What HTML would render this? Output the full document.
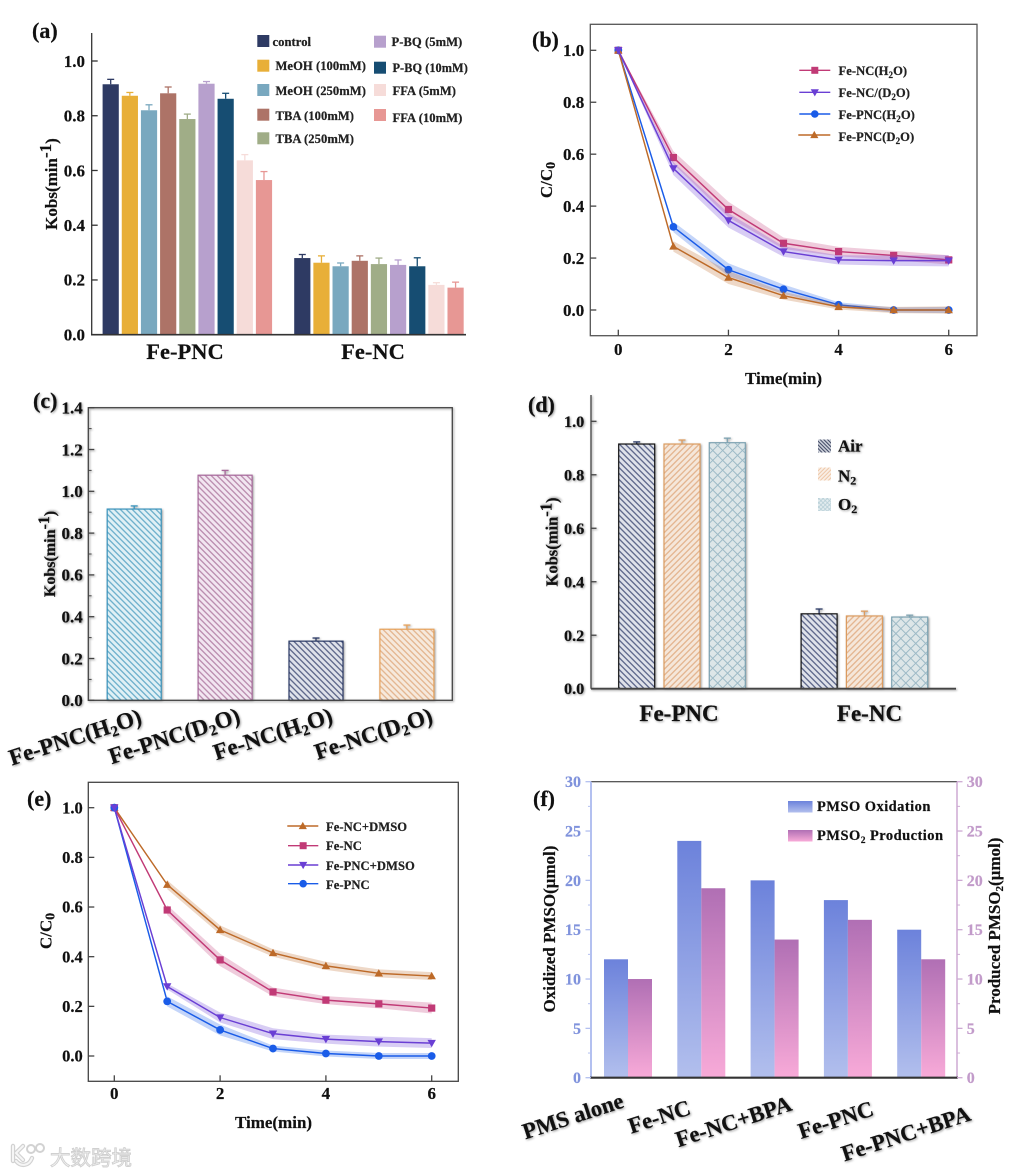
<!DOCTYPE html>
<html lang="en">
<head>
<meta charset="utf-8">
<title>Kobs and C/C0 chart panels</title>
<style>
html,body{margin:0;padding:0;background:#fff;width:1012px;height:1175px;overflow:hidden}
svg{display:block;filter:blur(.35px)}
text{font-family:"Liberation Serif","Noto Sans CJK SC",serif;font-weight:700;fill:#111;stroke:#111;stroke-width:.2px}
.sh{filter:drop-shadow(1.5px 1.5px 1px rgba(0,0,0,.38))}
.lg{font-size:12.6px;letter-spacing:.05px;fill:#222}
.pl{font-size:22px}
.ax{font-size:17px}
</style>
</head>
<body>
<svg id="fig" xmlns="http://www.w3.org/2000/svg" width="1012" height="1175" viewBox="0 0 1012 1175">
<defs>
<pattern id="hc1" width="4.2" height="4.2" patternUnits="userSpaceOnUse" patternTransform="rotate(45)"><rect width="4.2" height="4.2" fill="#e0f0f5"/><line x1="0" y1="2.1" x2="4.2" y2="2.1" stroke="#6aaecb" stroke-width="1.3"/></pattern>
<pattern id="hc2" width="4.2" height="4.2" patternUnits="userSpaceOnUse" patternTransform="rotate(45)"><rect width="4.2" height="4.2" fill="#f2e6f1"/><line x1="0" y1="2.1" x2="4.2" y2="2.1" stroke="#b98aad" stroke-width="1.3"/></pattern>
<pattern id="hc3" width="4.2" height="4.2" patternUnits="userSpaceOnUse" patternTransform="rotate(45)"><rect width="4.2" height="4.2" fill="#dfe2ea"/><line x1="0" y1="2.1" x2="4.2" y2="2.1" stroke="#5a6488" stroke-width="1.3"/></pattern>
<pattern id="hc4" width="4.2" height="4.2" patternUnits="userSpaceOnUse" patternTransform="rotate(45)"><rect width="4.2" height="4.2" fill="#f6e9dc"/><line x1="0" y1="2.1" x2="4.2" y2="2.1" stroke="#e3b48e" stroke-width="1.3"/></pattern>
<pattern id="hdAir" width="4.2" height="4.2" patternUnits="userSpaceOnUse" patternTransform="rotate(45)"><rect width="4.2" height="4.2" fill="#dfe2ea"/><line x1="0" y1="2.1" x2="4.2" y2="2.1" stroke="#5a6488" stroke-width="1.3"/></pattern>
<pattern id="hdN2" width="4.2" height="4.2" patternUnits="userSpaceOnUse" patternTransform="rotate(-45)"><rect width="4.2" height="4.2" fill="#f5e7da"/><line x1="0" y1="2.1" x2="4.2" y2="2.1" stroke="#e3b48e" stroke-width="1.3"/></pattern>
<pattern id="hdO2" width="7" height="7" patternUnits="userSpaceOnUse" patternTransform="rotate(45)"><rect width="7" height="7" fill="#dde6e8"/><path d="M0 3.5H7M3.5 0V7" stroke="#9dbac6" stroke-width="1"/></pattern>
<pattern id="lgAir" width="2.6" height="2.6" patternUnits="userSpaceOnUse" patternTransform="rotate(45)"><rect width="2.6" height="2.6" fill="#cfd3dc"/><line x1="0" y1="1.3" x2="2.6" y2="1.3" stroke="#3c4460" stroke-width="1"/></pattern>
<pattern id="lgN2" width="2.8" height="2.8" patternUnits="userSpaceOnUse" patternTransform="rotate(-45)"><rect width="2.8" height="2.8" fill="#f9efe6"/><line x1="0" y1="1.4" x2="2.8" y2="1.4" stroke="#eec6a6" stroke-width="1"/></pattern>
<pattern id="lgO2" width="3" height="3" patternUnits="userSpaceOnUse" patternTransform="rotate(45)"><rect width="3" height="3" fill="#e3ecef"/><path d="M0 1.5H3M1.5 0V3" stroke="#b5ced6" stroke-width=".8"/></pattern>
<linearGradient id="gOx" x1="0" y1="0" x2="0" y2="1"><stop offset="0" stop-color="#6c82db"/><stop offset="1" stop-color="#b2bfed"/></linearGradient>
<linearGradient id="gPr" x1="0" y1="0" x2="0" y2="1"><stop offset="0" stop-color="#b06fb4"/><stop offset="1" stop-color="#f8aad8"/></linearGradient>
</defs>

<!-- Panel labels -->
<text class="pl" x="32" y="38">(a)</text>
<text class="pl" x="532" y="47">(b)</text>
<text class="pl sh" x="33" y="408">(c)</text>
<text class="pl sh" x="528" y="412">(d)</text>
<text class="pl" x="27" y="806">(e)</text>
<text class="pl" x="533" y="806">(f)</text>

<!-- Axis titles -->
<text class="ax" text-anchor="middle" transform="translate(57 184) rotate(-90)">Kobs(min<tspan dy="-6">-1</tspan><tspan dy="6">)</tspan></text>
<text class="ax" text-anchor="middle" transform="translate(552 180) rotate(-90)">C/C<tspan dy="3" font-size="14">0</tspan></text>
<text class="ax" text-anchor="middle" x="783.5" y="384">Time(min)</text>
<text class="ax sh" text-anchor="middle" style="font-size:16px" transform="translate(55 554) rotate(-90)">Kobs(min<tspan dy="-6">-1</tspan><tspan dy="6">)</tspan></text>
<text class="ax sh" text-anchor="middle" style="font-size:16.5px" transform="translate(557.5 542) rotate(-90)">Kobs(min<tspan dy="-6">-1</tspan><tspan dy="6">)</tspan></text>
<text class="ax" text-anchor="middle" transform="translate(51.5 931) rotate(-90)">C/C<tspan dy="3" font-size="14">0</tspan></text>
<text class="ax" text-anchor="middle" x="273.5" y="1128">Time(min)</text>
<text class="ax" text-anchor="middle" transform="translate(555 929) rotate(-90)">Oxidized PMSO(μmol)</text>
<text class="ax" text-anchor="middle" transform="translate(1000 926) rotate(-90)">Produced PMSO<tspan dy="3" font-size="11">2</tspan><tspan dy="-3">(μmol)</tspan></text>

<!-- Category labels -->
<g>
<text style="font-size:22.5px" text-anchor="middle" x="185" y="359">Fe-PNC</text>
<text style="font-size:22.5px" text-anchor="middle" x="373" y="359">Fe-NC</text>
</g>
<g class="sh">
<text style="font-size:23px" text-anchor="middle" x="679" y="721">Fe-PNC</text>
<text style="font-size:23px" text-anchor="middle" x="869.5" y="721">Fe-NC</text>
</g>
<g class="sh">
<text style="font-size:23px" text-anchor="end" transform="translate(143 723) rotate(-18)">Fe-PNC(H<tspan dy="4" font-size="15">2</tspan><tspan dy="-4">O)</tspan></text>
<text style="font-size:23px" text-anchor="end" transform="translate(241.5 722) rotate(-18)">Fe-PNC(D<tspan dy="4" font-size="15">2</tspan><tspan dy="-4">O)</tspan></text>
<text style="font-size:23px" text-anchor="end" transform="translate(334 722) rotate(-18)">Fe-NC(H<tspan dy="4" font-size="15">2</tspan><tspan dy="-4">O)</tspan></text>
<text style="font-size:23px" text-anchor="end" transform="translate(434 722) rotate(-18)">Fe-NC(D<tspan dy="4" font-size="15">2</tspan><tspan dy="-4">O)</tspan></text>
</g>
<g class="sh">
<text style="font-size:22.6px" text-anchor="end" transform="translate(625 1107) rotate(-18)">PMS alone</text>
<text style="font-size:22.6px" text-anchor="end" transform="translate(692 1114) rotate(-18)">Fe-NC</text>
<text style="font-size:22.6px" text-anchor="end" transform="translate(793 1110) rotate(-18)">Fe-NC+BPA</text>
<text style="font-size:22.6px" text-anchor="end" transform="translate(875 1115) rotate(-18)">Fe-PNC</text>
<text style="font-size:22.6px" text-anchor="end" transform="translate(972 1120) rotate(-18)">Fe-PNC+BPA</text>
</g>

<!-- Legend text, panel a -->
<g>
<text class="lg" x="272.5" y="46">control</text>
<text class="lg" x="275.5" y="70">MeOH (100mM)</text>
<text class="lg" x="275.5" y="95">MeOH (250mM)</text>
<text class="lg" x="275.5" y="120">TBA (100mM)</text>
<text class="lg" x="275.5" y="143">TBA (250mM)</text>
<text class="lg" x="391.5" y="46">P-BQ (5mM)</text>
<text class="lg" x="392.5" y="72" style="font-size:12.3px">P-BQ (10mM)</text>
<text class="lg" x="392.5" y="95">FFA (5mM)</text>
<text class="lg" x="392.5" y="122">FFA (10mM)</text>
</g>

<!-- Legend text, panel b -->
<g>
<text class="lg" x="838.5" y="75">Fe-NC(H<tspan dy="3" font-size="9">2</tspan><tspan dy="-3">O)</tspan></text>
<text class="lg" x="838.5" y="97">Fe-NC/(D<tspan dy="3" font-size="9">2</tspan><tspan dy="-3">O)</tspan></text>
<text class="lg" x="838.5" y="119">Fe-PNC(H<tspan dy="3" font-size="9">2</tspan><tspan dy="-3">O)</tspan></text>
<text class="lg" x="838.5" y="141">Fe-PNC(D<tspan dy="3" font-size="9">2</tspan><tspan dy="-3">O)</tspan></text>
</g>

<!-- Legend, panel d -->
<g>
<rect x="818" y="439.5" width="13" height="13" fill="url(#lgAir)"/>
<rect x="818" y="467.5" width="13" height="13" fill="url(#lgN2)"/>
<rect x="818" y="498" width="13" height="13" fill="url(#lgO2)"/>
<text class="sh" style="font-size:17px" x="838" y="451.5">Air</text>
<text class="sh" style="font-size:17px" x="838" y="481.5">N<tspan dy="3" font-size="12">2</tspan></text>
<text class="sh" style="font-size:17px" x="838" y="510">O<tspan dy="3" font-size="12">2</tspan></text>
</g>

<!-- Legend text, panel e -->
<g>
<text class="lg" x="326" y="831">Fe-NC+DMSO</text>
<text class="lg" x="326" y="850">Fe-NC</text>
<text class="lg" x="326" y="870">Fe-PNC+DMSO</text>
<text class="lg" x="326" y="889">Fe-PNC</text>
</g>

<!-- Legend, panel f -->
<g>
<rect x="788" y="801" width="24.5" height="11.5" fill="url(#gOx)"/>
<rect x="788" y="830" width="24.5" height="11.5" fill="url(#gPr)"/>
<text style="font-size:14.5px;letter-spacing:.45px" x="817" y="811">PMSO Oxidation</text>
<text style="font-size:14.5px;letter-spacing:.45px" x="817" y="840">PMSO<tspan dy="3" font-size="9.5">2</tspan><tspan dy="-3"> Production</tspan></text>
</g>

<!-- Watermark -->
<g>
<path d="M13 1146v15M23 1146l-7 7 7 7M16 1161c5 6 13 5 16-3" fill="none" stroke="#d2d2d2" stroke-width="4.4" stroke-linecap="round"/>
<path d="M13 1146v15M23 1146l-7 7 7 7M16 1161c5 6 13 5 16-3" fill="none" stroke="#f6f6f6" stroke-width="2" stroke-linecap="round"/>
<circle cx="31" cy="1149" r="4" fill="#fff" stroke="#d2d2d2" stroke-width="2"/>
<circle cx="40" cy="1148" r="4" fill="#fff" stroke="#d2d2d2" stroke-width="2"/>
<text x="50" y="1165" style="font-family:'Liberation Sans','Noto Sans CJK SC',sans-serif;font-size:20.5px;font-weight:400;fill:#f2f2f2;stroke:#d0d0d0;stroke-width:.9px">大数跨境</text>
</g>
</svg>

<script>
/* ---------- Panel a data ---------- */
const aYTicks = [0, 0.2, 0.4, 0.6, 0.8, 1.0];
const aPncValues = [0.915, 0.873, 0.82, 0.882, 0.788, 0.917, 0.862, 0.637, 0.565];
const aPncTops = [0.933, 0.885, 0.84, 0.905, 0.806, 0.925, 0.882, 0.658, 0.596];
const aNcValues = [0.28, 0.263, 0.25, 0.27, 0.258, 0.255, 0.25, 0.182, 0.172];
const aNcTops = [0.293, 0.288, 0.262, 0.288, 0.28, 0.273, 0.281, 0.19, 0.192];
const aColors = ['#2e3a63', '#e8af38', '#79a8bf', '#ad7367', '#a0ad87', '#b7a0cd', '#164d72', '#f6dcd9', '#e79794'];

/* ---------- Panel b data ---------- */
const lineXTicks = [0, 2, 4, 6];
const lineYTicks = [0, 0.2, 0.4, 0.6, 0.8, 1.0];
const times = [0, 1, 2, 3, 4, 5, 6];
const bNcH2o = [1, 0.587, 0.387, 0.257, 0.225, 0.21, 0.193];
const bNcH2oErr = [0, 0.025, 0.03, 0.022, 0.018, 0.018, 0.018];
const bNcD2o = [1, 0.545, 0.345, 0.225, 0.193, 0.19, 0.19];
const bNcD2oErr = [0, 0.025, 0.028, 0.02, 0.018, 0.02, 0.022];
const bPncH2o = [1, 0.32, 0.155, 0.08, 0.02, 0, 0];
const bPncH2oErr = [null, 0.02, 0.025, 0.018, 0.01, 0.01, 0.012];
const bPncD2o = [1, 0.245, 0.125, 0.055, 0.012, 0, 0];
const bPncD2oErr = [null, 0.02, 0.025, 0.015, 0.01, 0.012, 0.014];

/* ---------- Panel c data ---------- */
const cYTicks = [0, 0.2, 0.4, 0.6, 0.8, 1.0, 1.2, 1.4];
const cYMinorTicks = [0.1, 0.3, 0.5, 0.7, 0.9, 1.1, 1.3];
const cValues = [0.915, 1.077, 0.283, 0.34];
const cTops = [0.93, 1.1, 0.298, 0.36];

/* ---------- Panel d data ---------- */
const dYTicks = [0, 0.2, 0.4, 0.6, 0.8, 1.0];
const dPncValues = [0.915, 0.915, 0.92];
const dPncTops = [0.923, 0.93, 0.937];
const dNcValues = [0.28, 0.272, 0.268];
const dNcTops = [0.298, 0.29, 0.275];

/* ---------- Panel e data ---------- */
const eNcDmso = [1, 0.69, 0.508, 0.415, 0.363, 0.333, 0.322];
const eNcDmsoErr = [null, 0.018, 0.018, 0.015, 0.016, 0.016, 0.016];
const eNc = [1, 0.588, 0.387, 0.258, 0.225, 0.21, 0.193];
const eNcErr = [null, 0.02, 0.025, 0.018, 0.016, 0.018, 0.022];
const ePncDmso = [1, 0.28, 0.155, 0.09, 0.068, 0.058, 0.052];
const ePncDmsoErr = [null, 0.012, 0.02, 0.022, 0.018, 0.02, 0.02];
const ePnc = [1, 0.22, 0.105, 0.03, 0.01, 0, 0];
const ePncErr = [null, 0.02, 0.022, 0.012, 0.012, 0.012, 0.012];

/* ---------- Panel f data ---------- */
const fTicks = [0, 5, 10, 15, 20, 25, 30];
const fMinorTicks = [2.5, 7.5, 12.5, 17.5, 22.5, 27.5];
const fOxidized = [12, 24, 20, 18, 15];
const fProduced = [10, 19.2, 14, 16, 12];

/* ---------- Axis functions ---------- */
const aY = v => 334.7 - v * 273.7;
const aX = (g, i) => 110.7 + g * 191.6 + i * 19.16;
const bX = t => 618.3 + t * 55.07;
const bY = v => 310 - v * 259.7;
const cY = v => 700.3 - v * 209;
const cX = i => 134.2 + i * 90.9;
const dY = v => 688.7 - v * 267.4;
const dX = (g, i) => 636.7 + g * 182.4 + i * 45.3;
const eX = t => 114.3 + t * 52.9;
const eY = v => 1056 - v * 248.3;
const fY = v => 1077.7 - v * 9.867;
const fX = i => 628 + i * 73.3;

/* ---------- Drawing helpers ---------- */
const svg = document.getElementById('fig');
const NS = 'http://www.w3.org/2000/svg';
function add(parent, tag, attrs) {
  const n = document.createElementNS(NS, tag);
  for (const k in attrs) n.setAttribute(k, attrs[k]);
  parent.appendChild(n);
  return n;
}
function group(name, cls) {
  const g = add(svg, 'g', cls ? { class: cls } : {});
  
  
  return g;
}
function hLine(parent, name, x1, x2, y, color, w) {
  const l = add(parent, 'line', { x1: x1, x2: x2, y1: y, y2: y, stroke: color, 'stroke-width': w });
  
  
  return l;
}
function vLine(parent, name, x, y1, y2, color, w) {
  const l = add(parent, 'line', { x1: x, x2: x, y1: y1, y2: y2, stroke: color, 'stroke-width': w });
  
  
  return l;
}
function label(parent, name, x, y, str, size, anchor, color) {
  const t = add(parent, 'text', { x: x, y: y, 'text-anchor': anchor });
  
  
  t.style.fontSize = size + 'px';
  if (color) { t.style.fill = color; t.style.stroke = color; }
  t.textContent = str;
  return t;
}
function yAxis(parent, prefix, ticks, minor, scale, x, dir, len, color, textX, size, anchor, fmt, textColor) {
  ticks.forEach(v => {
    hLine(parent, prefix + '-tick', x, x + dir * len, scale(v), color, 1.3);
    label(parent, prefix + '-tick-label', textX, scale(v) + size * 0.34, fmt(v), size, anchor, textColor);
  });
  minor.forEach(v => {
    hLine(parent, prefix + '-minor-tick', x, x + dir * len * 0.55, scale(v), color, 1);
  });
}
function barWithError(parent, name, x, w, y0, yv, yt, fill, stroke, sw, errColor) {
  const err = vLine(parent, name + '-error', x + w / 2, yv, yt, errColor, 1.3);
  const cap = hLine(parent, name + '-error-cap', x + w / 2 - 3.5, x + w / 2 + 3.5, yt, errColor, 1.3);
  const r = add(parent, 'rect', { x: x, y: yv, width: w, height: y0 - yv, fill: fill });
  if (stroke) { r.setAttribute('stroke', stroke); r.setAttribute('stroke-width', sw); }
  
  
  return r;
}
function marker(parent, name, shape, color, x, y, r) {
  let m;
  if (shape === 'square') m = add(parent, 'rect', { x: x - r, y: y - r, width: 2 * r, height: 2 * r, fill: color });
  else if (shape === 'circle') m = add(parent, 'circle', { cx: x, cy: y, r: r + 0.3, fill: color });
  else if (shape === 'up') m = add(parent, 'polygon', { points: [x - r - 0.6, y + r - 0.4, x + r + 0.6, y + r - 0.4, x, y - r - 0.6].join(' '), fill: color });
  else m = add(parent, 'polygon', { points: [x - r - 0.6, y - r + 0.4, x + r + 0.6, y - r + 0.4, x, y + r + 0.6].join(' '), fill: color });
  
  
  return m;
}
function series(parent, name, shape, color, values, errs, xs, sx, sy) {
  const g = add(parent, 'g', {});
  
  
  const idx = xs.map((_, i) => i).filter(i => errs[i] !== null);
  const upper = idx.map(i => sx(xs[i]) + ',' + sy(values[i] + errs[i]));
  const lower = idx.slice().reverse().map(i => sx(xs[i]) + ',' + sy(values[i] - errs[i]));
  const band = add(g, 'polygon', { points: upper.concat(lower).join(' '), fill: color, 'fill-opacity': 0.26 });
  
  
  const line = add(g, 'polyline', { points: xs.map((t, i) => sx(t) + ',' + sy(values[i])).join(' '), fill: 'none', stroke: color, 'stroke-width': 1.45 });
  
  
  xs.forEach((t, i) => marker(g, name + '-point', shape, color, sx(t), sy(values[i]), 3.6));
}
function legendKey(parent, name, shape, color, x1, x2, y) {
  hLine(parent, name + '-line', x1, x2, y, color, 1.4);
  marker(parent, name + '-marker', shape, color, (x1 + x2) / 2, y, 3.5);
}

const PINK = '#c13a76', PURPLE = '#6a3fd4', BLUE = '#1a5ce8', BROWN = '#bd6a28';
const fmt1 = v => v.toFixed(1);
const fmt0 = v => String(v);

/* ---------- Panel a ---------- */
(function () {
  const g = group('panel-a');
  aPncValues.forEach((v, i) => barWithError(g, 'a-bar-fe-pnc', aX(0, i) - 8.1, 16.2, aY(0), aY(v), aY(aPncTops[i]), aColors[i], null, 0, aColors[i]));
  aNcValues.forEach((v, i) => barWithError(g, 'a-bar-fe-nc', aX(1, i) - 8.1, 16.2, aY(0), aY(v), aY(aNcTops[i]), aColors[i], null, 0, aColors[i]));
  vLine(g, 'a-y-axis', 91.7, 33, aY(0), '#333', 1.3);
  hLine(g, 'a-x-axis', 91, 466, aY(0), '#333', 1.6);
  yAxis(g, 'a-y', aYTicks, [], aY, 91.7, 1, 6, '#333', 85, 17, 'end', fmt1);
  const lg = group('a-legend-swatches');
  const rows = [41, 65.7, 90, 114.7, 138.3];
  const rows2 = [41.7, 67.7, 90, 115];
  rows.forEach((y, i) => {
    const r = add(lg, 'rect', { x: 257.3, y: y - 6, width: 12, height: 12, fill: aColors[i] });
    
    
  });
  rows2.forEach((y, i) => {
    const r = add(lg, 'rect', { x: 374, y: y - 6, width: 12, height: 12, fill: aColors[i + 5] });
    
    
  });
})();

/* ---------- Panel b ---------- */
(function () {
  const g = group('panel-b');
  const frame = add(g, 'rect', { x: 590.3, y: 24.3, width: 386.7, height: 311.4, fill: 'none', stroke: '#555', 'stroke-width': 1.3 });
  
  
  yAxis(g, 'b-y', lineYTicks, [], bY, 590.3, 1, 6, '#444', 584.3, 17, 'end', fmt1);
  lineXTicks.forEach(t => {
    vLine(g, 'b-x-tick', bX(t), 335.7, 329.7, '#444', 1.3);
    label(g, 'b-x-tick-label', bX(t), 355, fmt0(t), 17, 'middle');
  });
  series(g, 'b-series-fe-nc-h2o', 'square', PINK, bNcH2o, bNcH2oErr, times, bX, bY);
  series(g, 'b-series-fe-pnc-h2o', 'circle', BLUE, bPncH2o, bPncH2oErr, times, bX, bY);
  series(g, 'b-series-fe-pnc-d2o', 'up', BROWN, bPncD2o, bPncD2oErr, times, bX, bY);
  series(g, 'b-series-fe-nc-d2o', 'down', PURPLE, bNcD2o, bNcD2oErr, times, bX, bY);
  legendKey(g, 'b-legend-fe-nc-h2o', 'square', PINK, 799.3, 830.3, 70.3);
  legendKey(g, 'b-legend-fe-nc-d2o', 'down', PURPLE, 799.3, 830.3, 92.3);
  legendKey(g, 'b-legend-fe-pnc-h2o', 'circle', BLUE, 799.3, 830.3, 114);
  legendKey(g, 'b-legend-fe-pnc-d2o', 'up', BROWN, 798.3, 830.3, 135);
})();

/* ---------- Panel c ---------- */
(function () {
  const g = group('panel-c', 'sh');
  const fills = ['url(#hc1)', 'url(#hc2)', 'url(#hc3)', 'url(#hc4)'];
  const strokes = ['#3a94bd', '#a8699c', '#2b3a66', '#e8a25a'];
  cValues.forEach((v, i) => barWithError(g, 'c-bar', cX(i) - 27, 54, cY(0), cY(v), cY(cTops[i]), fills[i], strokes[i], 1.2, strokes[i]));
  const frame = add(g, 'rect', { x: 88.3, y: 407.7, width: 364, height: 292.6, fill: 'none', stroke: '#444', 'stroke-width': 1.3 });
  
  
  yAxis(g, 'c-y', cYTicks, cYMinorTicks, cY, 88.3, 1, 6, '#444', 82.7, 17, 'end', fmt1);
})();

/* ---------- Panel d ---------- */
(function () {
  const g = group('panel-d', 'sh');
  const fills = ['url(#hdAir)', 'url(#hdN2)', 'url(#hdO2)'];
  const strokes = ['#111', '#dc9c60', '#7ea3b2'];
  const errs = ['#2b3a66', '#dc9c60', '#7ea3b2'];
  dPncValues.forEach((v, i) => barWithError(g, 'd-bar-fe-pnc', dX(0, i) - 18, 36, dY(0), dY(v), dY(dPncTops[i]), fills[i], strokes[i], 1.2, errs[i]));
  dNcValues.forEach((v, i) => barWithError(g, 'd-bar-fe-nc', dX(1, i) - 18, 36, dY(0), dY(v), dY(dNcTops[i]), fills[i], strokes[i], 1.2, errs[i]));
  vLine(g, 'd-y-axis', 591, 395, dY(0), '#444', 1.3);
  hLine(g, 'd-x-axis', 591, 956, dY(0), '#444', 1.8);
  yAxis(g, 'd-y', dYTicks, [], dY, 591, 1, 5.5, '#444', 584.3, 16.3, 'end', fmt1);
})();

/* ---------- Panel e ---------- */
(function () {
  const g = group('panel-e');
  const frame = add(g, 'rect', { x: 88.3, y: 782.3, width: 370, height: 299, fill: 'none', stroke: '#444', 'stroke-width': 1.3 });
  
  
  yAxis(g, 'e-y', lineYTicks, [], eY, 88.3, 1, 6, '#444', 82.7, 16.5, 'end', fmt1);
  lineXTicks.forEach(t => {
    vLine(g, 'e-x-tick', eX(t), 1081.3, 1075.3, '#444', 1.3);
    label(g, 'e-x-tick-label', eX(t), 1099, fmt0(t), 17, 'middle');
  });
  series(g, 'e-series-fe-nc-dmso', 'up', BROWN, eNcDmso, eNcDmsoErr, times, eX, eY);
  series(g, 'e-series-fe-nc', 'square', PINK, eNc, eNcErr, times, eX, eY);
  series(g, 'e-series-fe-pnc', 'circle', BLUE, ePnc, ePncErr, times, eX, eY);
  series(g, 'e-series-fe-pnc-dmso', 'down', PURPLE, ePncDmso, ePncDmsoErr, times, eX, eY);
  legendKey(g, 'e-legend-fe-nc-dmso', 'up', BROWN, 287.3, 318.3, 826);
  legendKey(g, 'e-legend-fe-nc', 'square', PINK, 288, 318.3, 845.7);
  legendKey(g, 'e-legend-fe-pnc-dmso', 'down', PURPLE, 288, 318.3, 865);
  legendKey(g, 'e-legend-fe-pnc', 'circle', BLUE, 288, 318.3, 883.7);
})();

/* ---------- Panel f ---------- */
(function () {
  const g = group('panel-f');
  const bw = 24;
  fOxidized.forEach((v, i) => {
    const r = add(g, 'rect', { x: fX(i) - bw, y: fY(v), width: bw, height: fY(0) - fY(v), fill: 'url(#gOx)' });
    
    
  });
  fProduced.forEach((v, i) => {
    const r = add(g, 'rect', { x: fX(i), y: fY(v), width: bw, height: fY(0) - fY(v), fill: 'url(#gPr)' });
    
    
  });
  hLine(g, 'f-top-border', 591, 957, fY(30), '#222', 1);
  vLine(g, 'f-left-axis', 591, fY(30), fY(0), '#b3c0f0', 2);
  vLine(g, 'f-right-axis', 957, fY(30), fY(0), '#cdaad3', 1.5);
  hLine(g, 'f-x-axis', 590, 958, fY(0), '#333', 2.2);
  yAxis(g, 'f-left', fTicks, fMinorTicks, fY, 591, -1, 5.5, '#b3c0f0', 581, 16, 'end', fmt0, '#7f92dc');
  yAxis(g, 'f-right', fTicks, fMinorTicks, fY, 957, 1, 5.5, '#cdaad3', 966.7, 16, 'start', fmt0, '#c29bca');
})();
</script>
</body>
</html>
